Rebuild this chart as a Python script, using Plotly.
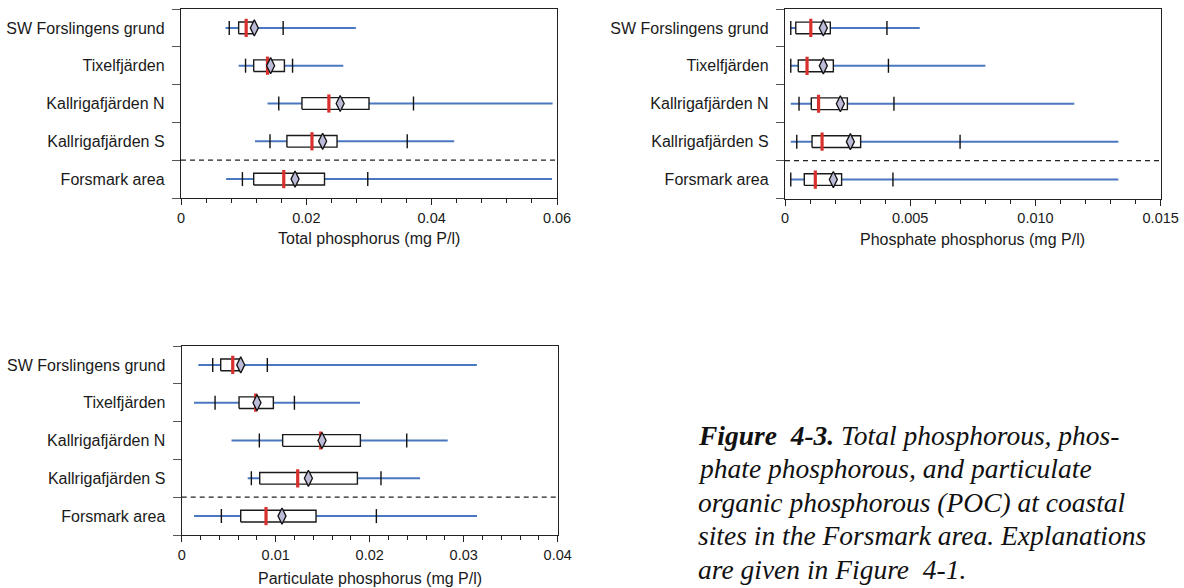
import plotly.graph_objects as go

# Sampling sites, top to bottom
sites = ["SW Forslingens grund", "Tixelfjärden", "Kallrigafjärden N",
         "Kallrigafjärden S", "Forsmark area"]

# Total phosphorus (mg P/l)
tp_min = [0.0071, 0.0092, 0.0138, 0.0118, 0.0072]
tp_p10 = [0.0077, 0.0103, 0.0156, 0.0142, 0.0098]
tp_q1 = [0.0092, 0.0116, 0.0193, 0.0169, 0.0116]
tp_median = [0.0104, 0.0138, 0.0236, 0.0209, 0.0164]
tp_mean = [0.0117, 0.0143, 0.0254, 0.0226, 0.0182]
tp_q3 = [0.0115, 0.0165, 0.0300, 0.0249, 0.0229]
tp_p90 = [0.0163, 0.0178, 0.0371, 0.0361, 0.0298]
tp_max = [0.0279, 0.0259, 0.0593, 0.0436, 0.0592]

# Phosphate phosphorus (mg P/l)
po4_min = [0.00023, 0.00023, 0.00023, 0.00023, 0.00023]
po4_p10 = [0.00023, 0.00023, 0.00056, 0.00047, 0.00023]
po4_q1 = [0.00043, 0.00053, 0.00105, 0.00108, 0.00077]
po4_median = [0.00103, 0.00088, 0.00134, 0.00148, 0.00121]
po4_mean = [0.00153, 0.00153, 0.00221, 0.00261, 0.00193]
po4_q3 = [0.00181, 0.00193, 0.00249, 0.00302, 0.00226]
po4_p90 = [0.00407, 0.00413, 0.00435, 0.00699, 0.00431]
po4_max = [0.00538, 0.00800, 0.01155, 0.01331, 0.01331]

# Particulate phosphorus (mg P/l)
pp_min = [0.00177, 0.00131, 0.00530, 0.00702, 0.00131]
pp_p10 = [0.00330, 0.00355, 0.00826, 0.00741, 0.00422]
pp_q1 = [0.00415, 0.00610, 0.01074, 0.00830, 0.00628]
pp_median = [0.00543, 0.00787, 0.01479, 0.01234, 0.00897]
pp_mean = [0.00628, 0.00801, 0.01493, 0.01348, 0.01067]
pp_q3 = [0.00628, 0.00975, 0.01901, 0.01869, 0.01429]
pp_p90 = [0.00911, 0.01199, 0.02394, 0.02120, 0.02071]
pp_max = [0.03140, 0.01897, 0.02830, 0.02535, 0.03142]

# Axis ticks
tp_ticks = [0, 0.02, 0.04, 0.06]
tp_ticktext = ["0", "0.02", "0.04", "0.06"]
po4_ticks = [0, 0.005, 0.010, 0.015]
po4_ticktext = ["0", "0.005", "0.010", "0.015"]
pp_ticks = [0, 0.01, 0.02, 0.03, 0.04]
pp_ticktext = ["0", "0.01", "0.02", "0.03", "0.04"]

titles = ["Total phosphorus (mg P/l)", "Phosphate phosphorus (mg P/l)",
          "Particulate phosphorus (mg P/l)"]

caption_lines = [
    "<b>Figure\u00a0 4-3.</b> Total phosphorous, phos-",
    "phate phosphorous, and particulate",
    "organic phosphorous (POC) at coastal",
    "sites in the Forsmark area. Explanations",
    "are given in Figure\u00a0 4-1.",
]

W, H = 1184, 588
SANS = "Liberation Sans, Arial, sans-serif"
SERIF = "Liberation Serif, Times New Roman, serif"
TXT = "#1a1a1a"
BLUE = "#4a78c0"
RED = "#d8302c"
DIAMOND = "#bcbcd8"


def fx(px):
    return px / W


def fy(py):
    return 1 - py / H


panels = [
    dict(stats=(tp_min, tp_p10, tp_q1, tp_median, tp_mean, tp_q3, tp_p90, tp_max),
         ticks=tp_ticks, ticktext=tp_ticktext, minor=0.004,
         box=(181, 557, 9, 198)),
    dict(stats=(po4_min, po4_p10, po4_q1, po4_median, po4_mean, po4_q3, po4_p90, po4_max),
         ticks=po4_ticks, ticktext=po4_ticktext, minor=0.001,
         box=(785, 1160.7, 9, 198.5)),
    dict(stats=(pp_min, pp_p10, pp_q1, pp_median, pp_mean, pp_q3, pp_p90, pp_max),
         ticks=pp_ticks, ticktext=pp_ticktext, minor=0.002,
         box=(181.7, 557.7, 346, 535)),
]

n = len(sites)
rows = [n - 1 - i for i in range(n)]  # first site at the top
half = 0.155  # half box height in row units

fig = go.Figure()
layout = dict(
    template="none", autosize=False,
    width=W, height=H, margin=dict(l=0, r=0, t=0, b=0, pad=0),
    paper_bgcolor="white", plot_bgcolor="white", showlegend=False,
    shapes=[], annotations=[],
)

for k, p in enumerate(panels):
    sfx = "" if k == 0 else str(k + 1)
    xa, ya = "x" + sfx, "y" + sfx
    vmin, p10, q1, med, mean, q3, p90, vmax = p["stats"]

    # min-max range line
    lx, ly = [], []
    for i in range(n):
        lx += [vmin[i], vmax[i], None]
        ly += [rows[i], rows[i], None]
    fig.add_trace(go.Scatter(x=lx, y=ly, mode="lines", xaxis=xa, yaxis=ya,
                             line=dict(color=BLUE, width=2), hoverinfo="skip"))

    # 10th / 90th percentile ticks
    fig.add_trace(go.Scatter(
        x=p10 + p90, y=rows + rows, mode="markers", xaxis=xa, yaxis=ya,
        marker=dict(symbol="line-ns", size=10, color="black",
                    line=dict(color="#111", width=1.4)),
        hoverinfo="skip"))

    # interquartile boxes
    for i in range(n):
        fig.add_trace(go.Scatter(
            x=[q1[i], q3[i], q3[i], q1[i], q1[i]],
            y=[rows[i] - half, rows[i] - half, rows[i] + half, rows[i] + half, rows[i] - half],
            mode="lines", fill="toself", fillcolor="white", xaxis=xa, yaxis=ya,
            line=dict(color="#1a1a1a", width=1.4), hoverinfo="skip"))

    # medians
    fig.add_trace(go.Scatter(
        x=med, y=rows, mode="markers", xaxis=xa, yaxis=ya,
        marker=dict(symbol="line-ns", size=13, color=RED,
                    line=dict(color=RED, width=3.2)),
        hoverinfo="skip"))

    # means
    fig.add_trace(go.Scatter(
        x=mean, y=rows, mode="markers", xaxis=xa, yaxis=ya,
        marker=dict(symbol="diamond-tall", size=11.5, color=DIAMOND,
                    line=dict(color="#111", width=1.3)),
        hoverinfo="skip"))

    x0, x1, top, bottom = p["box"]
    layout["xaxis" + sfx] = dict(
        domain=[fx(x0), fx(x1)], anchor=ya, range=[0, p["ticks"][-1]],
        automargin=False,
        tickmode="array", tickvals=p["ticks"], ticktext=p["ticktext"],
        ticks="outside", ticklen=6, tickwidth=1, tickcolor="#222",
        minor=dict(tick0=0, dtick=p["minor"], ticks="outside", ticklen=4,
                   tickwidth=1, tickcolor="#222", showgrid=False),
        showline=True, linecolor="#222", linewidth=1.3, mirror=True,
        showgrid=False, zeroline=False,
        tickfont=dict(family=SANS, size=14.5, color=TXT),
    )
    layout["yaxis" + sfx] = dict(
        domain=[fy(bottom), fy(top)], anchor=xa, range=[-0.5, n - 0.5],
        automargin=False,
        tickmode="array", tickvals=rows, ticktext=sites,
        ticks="", ticklabelstandoff=12,
        minor=dict(tick0=0.5, dtick=1, ticks="outside", ticklen=8,
                   tickwidth=1, tickcolor="#555", showgrid=False),
        showline=True, linecolor="#222", linewidth=1.3, mirror=True,
        showgrid=False, zeroline=False,
        tickfont=dict(family=SANS, size=16, color=TXT),
    )

    # separator between the individual sites and the whole area
    layout["shapes"].append(dict(
        type="line", xref=xa + " domain", yref=ya, x0=0, x1=1, y0=0.5, y1=0.5,
        line=dict(color="#222", width=1.2, dash="5px,4px")))

    # axis title
    title_y = bottom + 41 if k < 2 else bottom + 43
    layout["annotations"].append(dict(
        text=titles[k], xref="paper", yref="paper", x=fx((x0 + x1) / 2), y=fy(title_y),
        xanchor="center", yanchor="middle", showarrow=False,
        font=dict(family=SANS, size=16, color=TXT)))

# figure caption
for j, line in enumerate(caption_lines):
    layout["annotations"].append(dict(
        text=line, xref="paper", yref="paper", x=fx(696), y=fy(435.5 + 33.4 * j),
        xanchor="left", yanchor="middle", showarrow=False, align="left",
        font=dict(family=SERIF, size=27.5, color="#111", style="italic")))

fig.update_layout(**layout)
fig.write_html("out.html", config={"responsive": False})
